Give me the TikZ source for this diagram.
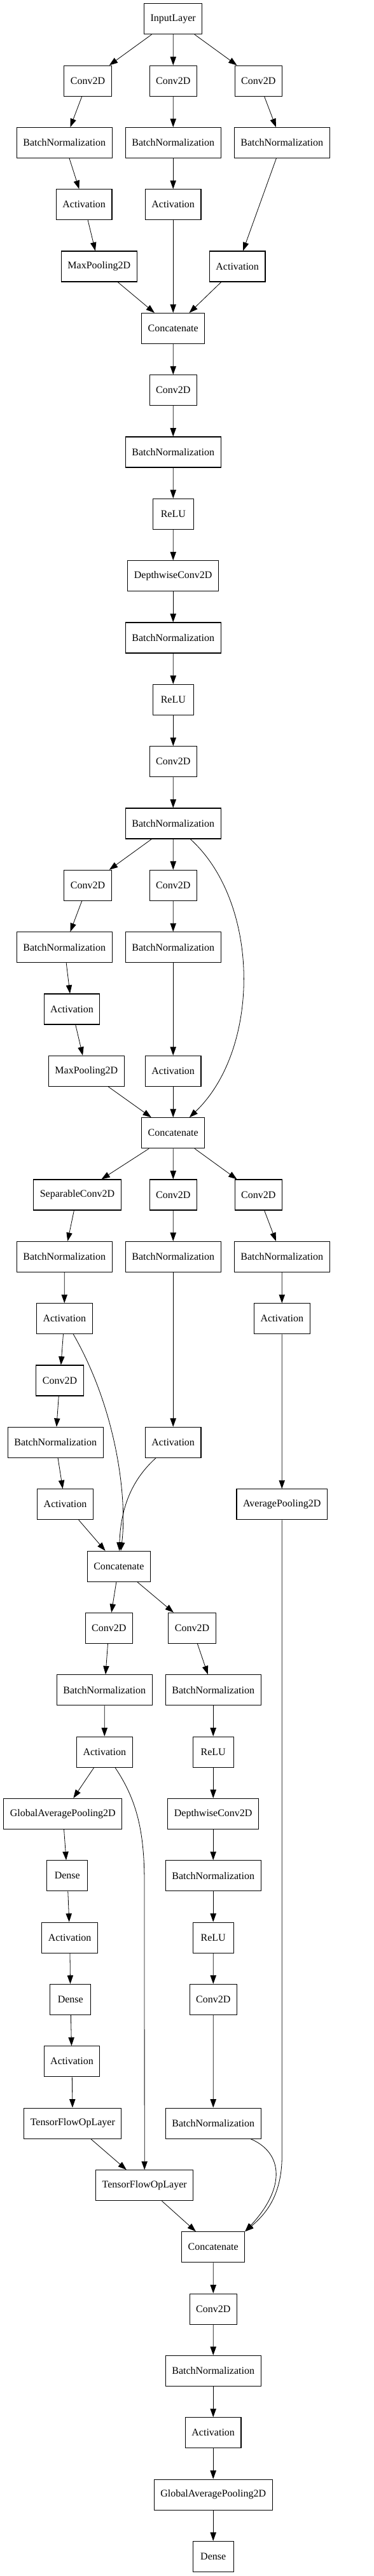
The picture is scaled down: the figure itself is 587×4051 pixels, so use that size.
\documentclass[tikz,border=0pt]{standalone}
\usepackage{fontspec}
\setmainfont{Liberation Serif}
\usetikzlibrary{arrows.meta}

\begin{document}
\begin{tikzpicture}[
    x = 0.75pt,
    y = -0.75pt,
    >={Triangle[length=10pt, width=7pt]},
    layer/.style = {rectangle, draw=black, line width=0.8pt, font=\fontsize{12}{14}\selectfont,
              inner xsep=7.5pt, inner ysep=0pt, minimum height=36pt, minimum width=48pt},
    link/.style = {->, black, line width=0.6pt},
    ]

\useasboundingbox (0,0) rectangle (587,4051);

\node[layer] (input_layer) at (272.2,29.7){InputLayer};
\node[layer] (conv_1a) at (138,127.2){Conv2D};
\node[layer] (conv_1b) at (272.3,127.2){Conv2D};
\node[layer] (conv_1c) at (406.3,127.2){Conv2D};
\node[layer] (bn_1a) at (101.2,224.5){BatchNormalization};
\node[layer] (bn_1b) at (272.2,224.5){BatchNormalization};
\node[layer] (bn_1c) at (443.2,224.5){BatchNormalization};
\node[layer] (act_1a) at (132.2,321.7){Activation};
\node[layer] (act_1b) at (272.2,321.7){Activation};
\node[layer] (pool_1a) at (155.8,419){MaxPooling2D};
\node[layer] (act_1c) at (373.2,419){Activation};
\node[layer] (concat_1) at (272.2,516.5){Concatenate};
\node[layer] (conv_2) at (272.3,613.7){Conv2D};
\node[layer] (bn_2) at (272.2,711){BatchNormalization};
\node[layer] (relu_2) at (272.3,808.3){ReLU};
\node[layer] (dwconv_2) at (272.2,905.7){DepthwiseConv2D};
\node[layer] (bn_3) at (272.2,1003){BatchNormalization};
\node[layer] (relu_3) at (272.3,1100.3){ReLU};
\node[layer] (conv_3) at (272.3,1197.7){Conv2D};
\node[layer] (bn_4) at (272.2,1295){BatchNormalization};
\node[layer] (conv_4a) at (138,1392.3){Conv2D};
\node[layer] (conv_4b) at (272.3,1392.3){Conv2D};
\node[layer] (bn_4a) at (101.2,1489.7){BatchNormalization};
\node[layer] (bn_4b) at (272.2,1489.7){BatchNormalization};
\node[layer] (act_4a) at (113,1587){Activation};
\node[layer] (pool_4a) at (135.8,1684.3){MaxPooling2D};
\node[layer] (act_4b) at (272.2,1684.3){Activation};
\node[layer] (concat_2) at (272.2,1781.7){Concatenate};
\node[layer] (sepconv_5a) at (121.5,1879){SeparableConv2D};
\node[layer] (conv_5b) at (272.3,1879){Conv2D};
\node[layer] (conv_5c) at (406.3,1879){Conv2D};
\node[layer] (bn_5a) at (101.2,1976.3){BatchNormalization};
\node[layer] (bn_5b) at (272.2,1976.3){BatchNormalization};
\node[layer] (bn_5c) at (443.2,1976.3){BatchNormalization};
\node[layer] (act_5a) at (101.3,2073.7){Activation};
\node[layer] (act_5c) at (443.3,2073.7){Activation};
\node[layer] (conv_6a) at (94,2171){Conv2D};
\node[layer] (bn_6a) at (87.2,2268.3){BatchNormalization};
\node[layer] (act_5b) at (272.2,2268.3){Activation};
\node[layer] (act_6a) at (102.5,2365.7){Activation};
\node[layer] (avgpool_5c) at (443.2,2365.7){AveragePooling2D};
\node[layer] (concat_3) at (186.8,2463.3){Concatenate};
\node[layer] (conv_7a) at (171.3,2560.3){Conv2D};
\node[layer] (conv_7b) at (302,2560.3){Conv2D};
\node[layer] (bn_7a) at (164.2,2657.7){BatchNormalization};
\node[layer] (bn_7b) at (335.2,2657.7){BatchNormalization};
\node[layer] (act_7a) at (164.3,2755){Activation};
\node[layer] (relu_7b) at (335.2,2755){ReLU};
\node[layer] (gap_7a) at (98.8,2852.3){GlobalAveragePooling2D};
\node[layer] (dwconv_7b) at (335.2,2852.3){DepthwiseConv2D};
\node[layer] (dense_7a) at (105.8,2949.7){Dense};
\node[layer] (bn_8b) at (335.2,2949.7){BatchNormalization};
\node[layer] (act_8a) at (109.7,3047){Activation};
\node[layer] (relu_8b) at (335.2,3047){ReLU};
\node[layer] (dense_8a) at (110.8,3144.3){Dense};
\node[layer] (conv_8b) at (335.3,3144.3){Conv2D};
\node[layer] (act_9a) at (113,3241.7){Activation};
\node[layer] (tfop_9a) at (114.3,3339){TensorFlowOpLayer};
\node[layer] (bn_9b) at (335.2,3339){BatchNormalization};
\node[layer] (tfop_10) at (227.2,3436.7){TensorFlowOpLayer};
\node[layer] (concat_4) at (335.2,3533.7){Concatenate};
\node[layer] (conv_11) at (335.3,3631){Conv2D};
\node[layer] (bn_11) at (335.2,3728.3){BatchNormalization};
\node[layer] (act_11) at (335.2,3825.7){Activation};
\node[layer] (gap_11) at (335.2,3923){GlobalAveragePooling2D};
\node[layer] (dense_11) at (335.2,4020.3){Dense};

\coordinate (skip_7a) at (227,2960);
\coordinate (skip_5c) at (443.3,3390);

\draw [link] (input_layer) -- (conv_1a);
\draw [link] (input_layer) -- (conv_1b);
\draw [link] (input_layer) -- (conv_1c);
\draw [link] (conv_1a) -- (bn_1a);
\draw [link] (conv_1b) -- (bn_1b);
\draw [link] (conv_1c) -- (bn_1c);
\draw [link] (bn_1a) -- (act_1a);
\draw [link] (bn_1b) -- (act_1b);
\draw [link] (bn_1c) -- (act_1c);
\draw [link] (act_1a) -- (pool_1a);
\draw [link] (pool_1a) -- (concat_1);
\draw [link] (act_1b) -- (concat_1);
\draw [link] (act_1c) -- (concat_1);
\draw [link] (concat_1) -- (conv_2);
\draw [link] (conv_2) -- (bn_2);
\draw [link] (bn_2) -- (relu_2);
\draw [link] (relu_2) -- (dwconv_2);
\draw [link] (dwconv_2) -- (bn_3);
\draw [link] (bn_3) -- (relu_3);
\draw [link] (relu_3) -- (conv_3);
\draw [link] (conv_3) -- (bn_4);
\draw [link] (bn_4) -- (conv_4a);
\draw [link] (bn_4) -- (conv_4b);
\draw [link] (bn_4) .. controls (410,1420) and (410,1650) .. (concat_2);
\draw [link] (conv_4a) -- (bn_4a);
\draw [link] (conv_4b) -- (bn_4b);
\draw [link] (bn_4a) -- (act_4a);
\draw [link] (act_4a) -- (pool_4a);
\draw [link] (bn_4b) -- (act_4b);
\draw [link] (pool_4a) -- (concat_2);
\draw [link] (act_4b) -- (concat_2);
\draw [link] (concat_2) -- (sepconv_5a);
\draw [link] (concat_2) -- (conv_5b);
\draw [link] (concat_2) -- (conv_5c);
\draw [link] (sepconv_5a) -- (bn_5a);
\draw [link] (conv_5b) -- (bn_5b);
\draw [link] (conv_5c) -- (bn_5c);
\draw [link] (bn_5a) -- (act_5a);
\draw [link] (bn_5b) -- (act_5b);
\draw [link] (bn_5c) -- (act_5c);
\draw [link] (act_5a) -- (conv_6a);
\draw [link] (conv_6a) -- (bn_6a);
\draw [link] (bn_6a) -- (act_6a);
\draw [link] (act_5c) -- (avgpool_5c);
\draw [link] (act_6a) -- (concat_3);
\draw [link] (act_5a) .. controls (185,2220) and (200,2360) .. (concat_3);
\draw [link] (act_5b) .. controls (215,2320) and (190,2360) .. (concat_3);
\draw [link] (concat_3) -- (conv_7a);
\draw [link] (concat_3) -- (conv_7b);
\draw [link] (conv_7a) -- (bn_7a);
\draw [link] (conv_7b) -- (bn_7b);
\draw [link] (bn_7a) -- (act_7a);
\draw [link] (bn_7b) -- (relu_7b);
\draw [link] (act_7a) -- (gap_7a);
\draw [link] (relu_7b) -- (dwconv_7b);
\draw [link] (gap_7a) -- (dense_7a);
\draw [link] (dwconv_7b) -- (bn_8b);
\draw [link] (dense_7a) -- (act_8a);
\draw [link] (bn_8b) -- (relu_8b);
\draw [link] (act_8a) -- (dense_8a);
\draw [link] (relu_8b) -- (conv_8b);
\draw [link] (dense_8a) -- (act_9a);
\draw [link] (act_9a) -- (tfop_9a);
\draw [link] (conv_8b) -- (bn_9b);
\draw [link] (tfop_9a) -- (tfop_10);
\draw [link] (act_7a) .. controls (215,2830) and (227,2880) .. (skip_7a) -- (tfop_10);
\draw [link] (tfop_10) -- (concat_4);
\draw [link] (bn_9b) .. controls (445,3385) and (450,3440) .. (concat_4.north east);
\draw [link] (avgpool_5c) -- (skip_5c) .. controls (443.3,3450) and (420,3480) .. (concat_4.north east);
\draw [link] (concat_4) -- (conv_11);
\draw [link] (conv_11) -- (bn_11);
\draw [link] (bn_11) -- (act_11);
\draw [link] (act_11) -- (gap_11);
\draw [link] (gap_11) -- (dense_11);

\end{tikzpicture}
\end{document}
